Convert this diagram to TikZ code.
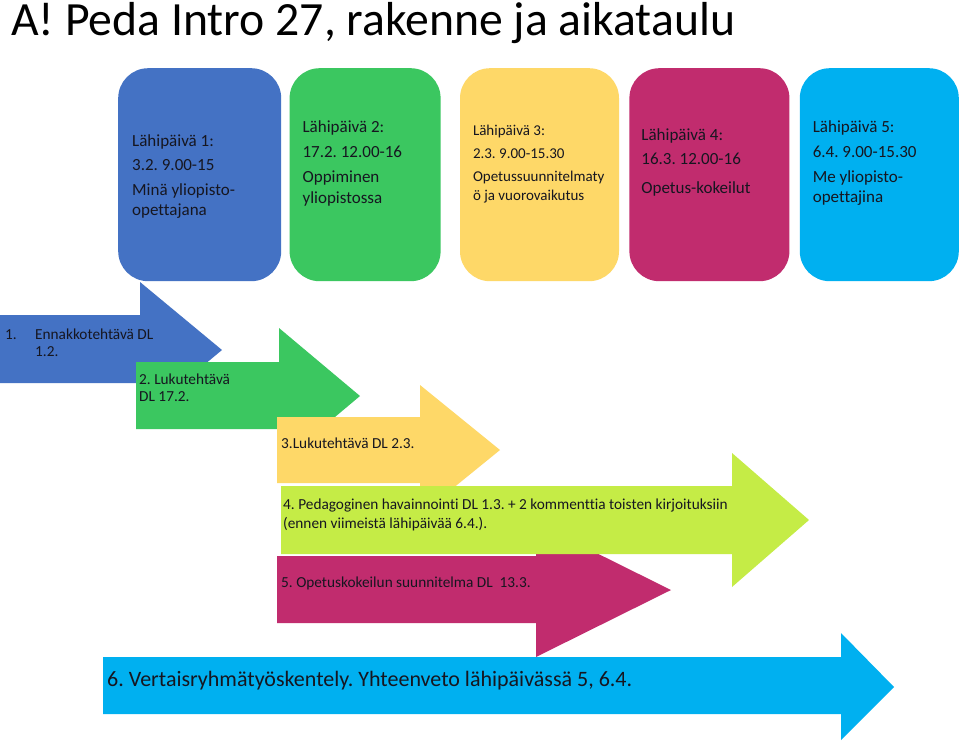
\documentclass[tikz,border=0pt]{standalone}
\usepackage{fontspec}
\setmainfont{Carlito}[Ligatures=NoCommon]
\frenchspacing
\usetikzlibrary{positioning}
\definecolor{dayblue}{RGB}{68,114,196}
\definecolor{daygreen}{RGB}{59,199,96}
\definecolor{dayyellow}{RGB}{254,216,104}
\definecolor{daymagenta}{RGB}{193,44,110}
\definecolor{daycyan}{RGB}{0,176,240}
\definecolor{tasklime}{RGB}{197,236,70}
\definecolor{textdark}{RGB}{22,22,32}

\tikzset{
    daybox/.style={rectangle, rounded corners=30pt, minimum height=213pt, inner sep=0pt},
    daytext/.style={anchor=north west, align=left, inner sep=0pt, text=textdark,
        font=\fontsize{17}{20.5}\selectfont},
    tasktext/.style={anchor=north west, align=left, inner sep=0pt, text=textdark,
        font=\fontsize{15.3}{17}\selectfont}
}

\begin{document}
\begin{tikzpicture}[x=1pt, y=-1pt, node distance=10pt]

        \fill[white] (0,0) rectangle (959,742);
        \useasboundingbox (0,0) rectangle (959,742);

        \node (title) [
            anchor=base west,
            inner sep=0pt,
            font=\fontsize{47.7}{56}\selectfont
        ] at (11,35) {A! Peda Intro 27, rakenne ja aikataulu};

        \node (day1) [
            daybox,
            fill=dayblue,
            minimum width=163pt,
            anchor=north west
        ] at (118,68) {};
        \node (day2) [daybox, fill=daygreen, minimum width=151pt, right=8pt of day1] {};
        \node (day3) [daybox, fill=dayyellow, minimum width=159pt, right=19pt of day2] {};
        \node (day4) [daybox, fill=daymagenta, minimum width=160pt, right=10pt of day3] {};
        \node (day5) [daybox, fill=daycyan, minimum width=159pt, right=10pt of day4] {};

        \node (day1text) [daytext, below right=66pt and 14pt of day1.north west]
        {Lähipäivä 1:\\[4pt]
        3.2. 9.00-15\\[4pt]
        Minä yliopisto-\\
        opettajana};
        \node (day2text) [daytext, below right=52pt and 13pt of day2.north west]
        {Lähipäivä 2:\\[4.5pt]
        17.2. 12.00-16\\[5pt]
        Oppiminen\\
        yliopistossa};
        \node (day3text) [
            daytext,
            font=\fontsize{15}{18.5}\selectfont,
            below right=57pt and 13pt of day3.north west
        ]
        {Lähipäivä 3:\\[4.5pt]
        2.3. 9.00-15.30\\[4.5pt]
        Opetussuunnitelmaty\\
        ö ja vuorovaikutus};
        \node (day4text) [daytext, below right=60pt and 12pt of day4.north west]
        {Lähipäivä 4:\\[4pt]
        16.3. 12.00-16\\[8pt]
        Opetus-kokeilut};
        \node (day5text) [daytext, below right=52pt and 13pt of day5.north west]
        {Lähipäivä 5:\\[4.5pt]
        6.4. 9.00-15.30\\[4.5pt]
        Me yliopisto-\\
        opettajina};

        \fill[dayblue] (0,315) -- (140,315) -- (140,282) -- (222,350)
            -- (140,418) -- (140,383) -- (0,383) -- cycle;
        \fill[daygreen] (136,362) -- (279,362) -- (279,328) -- (360,396)
            -- (279,464) -- (279,429) -- (136,429) -- cycle;
        \fill[dayyellow] (277,417) -- (420,417) -- (420,385) -- (500,450)
            -- (420,515) -- (420,483) -- (277,483) -- cycle;
        \fill[daymagenta] (277,556) -- (536,556) -- (536,523) -- (671,590)
            -- (536,657) -- (536,623) -- (277,623) -- cycle;
        \fill[tasklime] (281,486) -- (732,486) -- (732,453) -- (809,520)
            -- (732,587) -- (732,554) -- (281,554) -- cycle;
        \fill[daycyan] (103,657) -- (841,657) -- (841,633) -- (894,687)
            -- (841,740) -- (841,714) -- (103,714) -- cycle;

        \node (task1) [tasktext] at (5,329)
        {\makebox[30pt][l]{1.}Ennakkotehtävä DL\\
        \hspace*{30pt}1.2.};
        \node (task2) [tasktext] at (139,374)
        {2. Lukutehtävä\\
        DL 17.2.};
        \node (task3) [tasktext] at (281,438) {3.Lukutehtävä DL 2.3.};
        \node (task4) [tasktext, font=\fontsize{15.3}{18.5}\selectfont] at (283,499)
        {4. Pedagoginen havainnointi DL 1.3. + 2 kommenttia toisten kirjoituksiin\\
        (ennen viimeistä lähipäivää 6.4.).};
        \node (task5) [tasktext] at (281,577) {5. Opetuskokeilun suunnitelma DL\ \ 13.3.};
        \node (task6) [tasktext, font=\fontsize{22}{26}\selectfont] at (107,671)
        {6. Vertaisryhmätyöskentely. Yhteenveto lähipäivässä 5, 6.4.};

\end{tikzpicture}
\end{document}
